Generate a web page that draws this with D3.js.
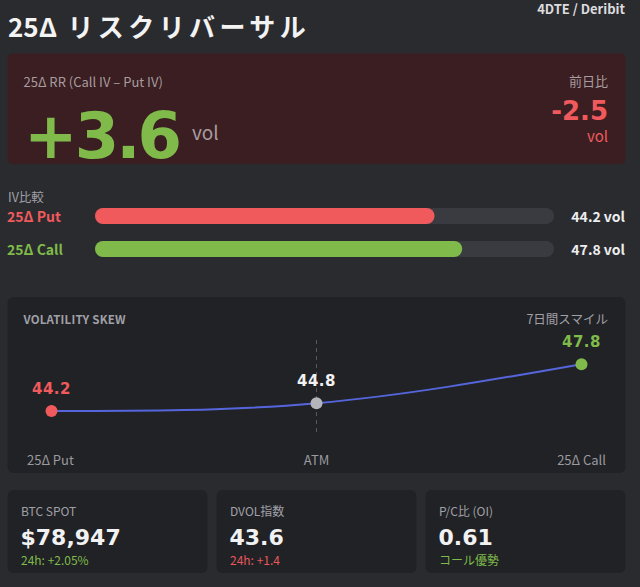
<!DOCTYPE html>
<html>
<head>
<meta charset="utf-8">
<script src="https://cdn.jsdelivr.net/npm/d3@7"></script>
<style>
  html, body { margin: 0; padding: 0; background: #2a2b2f; }
  svg { display: block; }
</style>
</head>
<body>
<div id="chart"></div>
<script>
"use strict";

// --- données ---
const titleText = "25Δ リスクリバーサル";
const sourceText = "4DTE / Deribit";
const rrLabel = "25Δ RR (Call IV – Put IV)";
const rrValue = 3.6;
const rrChange = -2.5;

const ivNames = ["25Δ Put", "25Δ Call"];
const ivValues = [44.2, 47.8];

const skewLabels = ["25Δ Put", "ATM", "25Δ Call"];
const skewValues = [44.2, 44.8, 47.8];

const statLabels = ["BTC SPOT", "DVOL指数", "P/C比 (OI)"];
const statValues = ["$78,947", "43.6", "0.61"];
const statNotes = ["24h: +2.05%", "24h: +1.4", "コール優勢"];
const statTone = ["good", "bad", "good"];

// --- style ---
const JP = "'Noto Sans CJK JP', 'Noto Sans', sans-serif";
const NUM = "'DejaVu Sans', sans-serif";
const RED = "#f05a5c";
const GREEN = "#7fba4a";
const GREY = "#a0a0a6";
const toneColor = { good: GREEN, bad: "#e8575a" };

const W = 640, H = 587;
const left = 7.5, right = 625.5;

const svg = d3.select("#chart").append("svg")
  .attr("width", W)
  .attr("height", H)
  .style("font-family", JP);

svg.append("rect").attr("width", W).attr("height", H).attr("fill", "#2a2b2f");

// titre
const title = svg.append("text")
  .attr("x", 8).attr("y", 37)
  .attr("font-size", 26).attr("font-weight", 700)
  .attr("fill", "#f3f3f3");
const parts = titleText.split(" ");
title.append("tspan").text(parts[0]);
title.append("tspan").attr("letter-spacing", 4.4).text(" " + parts[1]);

svg.append("text")
  .attr("x", 625).attr("y", 14)
  .attr("text-anchor", "end")
  .attr("font-size", 13).attr("font-weight", 700)
  .attr("fill", "#dcdcdf")
  .text(sourceText);

// --- panneau RR ---
const rr = svg.append("g");
rr.append("rect")
  .attr("x", left).attr("y", 53.5)
  .attr("width", right - left).attr("height", 110.5)
  .attr("rx", 5)
  .attr("fill", "#3a1e22");

rr.append("text")
  .attr("x", 23.5).attr("y", 87)
  .attr("font-size", 13).attr("fill", "#a89c9e")
  .text(rrLabel);

rr.append("text")
  .attr("x", 24).attr("y", 158)
  .attr("font-family", NUM).attr("font-size", 64).attr("font-weight", 700)
  .attr("letter-spacing", -3)
  .attr("fill", GREEN)
  .text((rrValue > 0 ? "+" : "") + rrValue.toFixed(1));

rr.append("text")
  .attr("x", 192).attr("y", 140)
  .attr("font-size", 19).attr("fill", "#a89c9e")
  .text("vol");

rr.append("text")
  .attr("x", 608).attr("y", 86)
  .attr("text-anchor", "end")
  .attr("font-size", 13).attr("fill", "#a89c9e")
  .text("前日比");

rr.append("text")
  .attr("x", 608).attr("y", 120)
  .attr("text-anchor", "end")
  .attr("font-family", NUM).attr("font-size", 26).attr("font-weight", 700)
  .attr("fill", RED)
  .text(rrChange.toFixed(1));

rr.append("text")
  .attr("x", 608).attr("y", 142)
  .attr("text-anchor", "end")
  .attr("font-size", 15).attr("fill", RED)
  .text("vol");

// --- comparaison IV (barres) ---
svg.append("text")
  .attr("x", 8).attr("y", 202)
  .attr("font-size", 12.5).attr("fill", GREY)
  .text("IV比較");

const xBar = d3.scaleLinear()
  .domain([0, d3.max(ivValues) * 1.25])
  .range([95, 554]);
const yRow = d3.scaleBand().domain(ivNames).range([208, 257]).paddingInner(17 / 33);
const barColors = [RED, GREEN];

const rows = svg.selectAll("g.iv")
  .data(ivNames)
  .enter()
  .append("g")
  .attr("class", "iv")
  .attr("transform", function(d) { return "translate(0," + yRow(d) + ")"; });

rows.append("rect")
  .attr("x", xBar(0)).attr("height", yRow.bandwidth())
  .attr("width", xBar.range()[1] - xBar(0))
  .attr("rx", 8)
  .attr("fill", "#3a3b41");

rows.append("rect")
  .attr("x", xBar(0)).attr("height", yRow.bandwidth())
  .attr("width", function(d, i) { return xBar(ivValues[i]) - xBar(0); })
  .attr("rx", 8)
  .attr("fill", function(d, i) { return barColors[i]; });

rows.append("text")
  .attr("x", 7).attr("y", 13.5)
  .attr("font-size", 14).attr("font-weight", 700)
  .attr("fill", function(d, i) { return barColors[i]; })
  .text(function(d) { return d; });

rows.append("text")
  .attr("x", 625).attr("y", 13.5)
  .attr("text-anchor", "end")
  .attr("font-size", 14).attr("font-weight", 700)
  .attr("fill", "#eeeeef")
  .text(function(d, i) { return ivValues[i].toFixed(1) + " vol"; });

// --- volatility skew ---
const sk = svg.append("g");
sk.append("rect")
  .attr("x", left).attr("y", 297)
  .attr("width", right - left).attr("height", 176)
  .attr("rx", 6)
  .attr("fill", "#212226");

sk.append("text")
  .attr("x", 23.5).attr("y", 324)
  .attr("font-size", 11.5).attr("font-weight", 700)
  .attr("letter-spacing", 0.2)
  .attr("fill", GREY)
  .text("VOLATILITY SKEW");

sk.append("text")
  .attr("x", 608).attr("y", 324)
  .attr("text-anchor", "end")
  .attr("font-size", 12.5).attr("fill", GREY)
  .text("7日間スマイル");

const x = d3.scalePoint().domain(skewLabels).range([51.5, 581.5]);
const y = d3.scaleLinear()
  .domain([d3.min(skewValues) - 2, d3.max(skewValues) + 2])
  .range([437.1, 338.1]);
const pointColors = [RED, "#b4b5ba", GREEN];
const labelColors = [RED, "#f2f2f3", GREEN];

sk.append("line")
  .attr("x1", x("ATM")).attr("x2", x("ATM"))
  .attr("y1", 340).attr("y2", 435)
  .attr("stroke", "#56585e")
  .attr("stroke-dasharray", "4,4");

const line = d3.line()
  .x(function(d, i) { return x(skewLabels[i]); })
  .y(function(d) { return y(d); })
  .curve(d3.curveNatural);

sk.append("path")
  .datum(skewValues)
  .attr("d", line)
  .attr("fill", "none")
  .attr("stroke", "#5566dd")
  .attr("stroke-width", 2);

sk.selectAll("circle")
  .data(skewValues)
  .enter()
  .append("circle")
  .attr("cx", function(d, i) { return x(skewLabels[i]); })
  .attr("cy", function(d) { return y(d); })
  .attr("r", 6)
  .attr("fill", function(d, i) { return pointColors[i]; });

sk.selectAll("text.val")
  .data(skewValues)
  .enter()
  .append("text")
  .attr("class", "val")
  .attr("x", function(d, i) { return x(skewLabels[i]); })
  .attr("y", function(d) { return y(d) - 17; })
  .attr("text-anchor", "middle")
  .attr("font-family", NUM).attr("font-size", 15).attr("font-weight", 700)
  .attr("letter-spacing", 0.5)
  .attr("fill", function(d, i) { return labelColors[i]; })
  .text(function(d) { return d.toFixed(1); });

// étiquettes de l'axe : début / milieu / fin du panneau
const anchors = ["start", "middle", "end"];
const labelX = [27, x("ATM"), 606];
sk.selectAll("text.axis")
  .data(skewLabels)
  .enter()
  .append("text")
  .attr("class", "axis")
  .attr("x", function(d, i) { return labelX[i]; })
  .attr("y", 465)
  .attr("text-anchor", function(d, i) { return anchors[i]; })
  .attr("font-size", 13)
  .attr("fill", "#9a9a9f")
  .text(function(d) { return d; });

// --- cartes du bas ---
const xCard = d3.scaleBand()
  .domain(statLabels)
  .range([left, right])
  .paddingInner(9 / 209);

const cards = svg.selectAll("g.card")
  .data(statLabels)
  .enter()
  .append("g")
  .attr("class", "card")
  .attr("transform", function(d) { return "translate(" + xCard(d) + ",490)"; });

cards.append("rect")
  .attr("width", xCard.bandwidth()).attr("height", 83)
  .attr("rx", 6)
  .attr("fill", "#212226");

cards.append("text")
  .attr("x", 13.5).attr("y", 26)
  .attr("font-size", 12).attr("fill", GREY)
  .text(function(d) { return d; });

cards.append("text")
  .attr("x", 13).attr("y", 54.5)
  .attr("font-family", NUM).attr("font-size", 22).attr("font-weight", 700)
  .attr("fill", "#f2f2f3")
  .text(function(d, i) { return statValues[i]; });

cards.append("text")
  .attr("x", 13.5).attr("y", 75)
  .attr("font-size", 12)
  .attr("fill", function(d, i) { return toneColor[statTone[i]]; })
  .text(function(d, i) { return statNotes[i]; });
</script>
</body>
</html>
